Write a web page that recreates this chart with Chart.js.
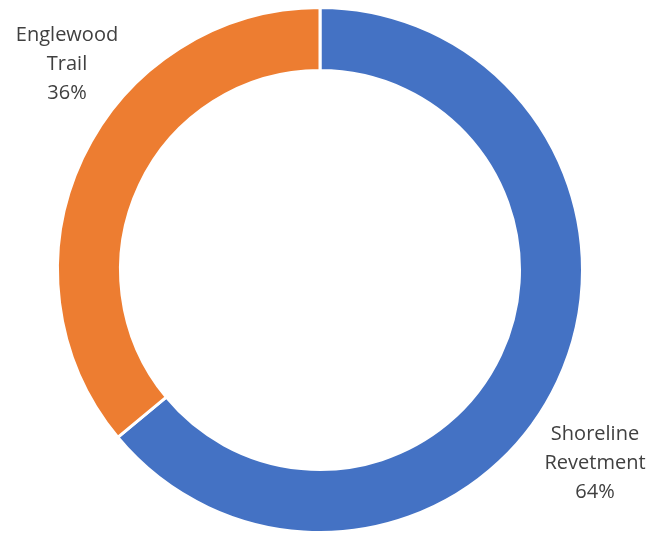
<!DOCTYPE html>
<html><head><meta charset="utf-8">
<script src="https://cdn.jsdelivr.net/npm/chart.js@4"></script>
<style>html,body{margin:0;padding:0;background:#fff}#w{width:665px;height:534px}</style>
</head><body><div id="w"><canvas id="c" width="665" height="534"></canvas></div>
<script>
const categories = ["Shoreline Revetment", "Englewood Trail"];
const values = [64, 36];
const labelLines = [["Shoreline", "Revetment", "64%"], ["Englewood", "Trail", "36%"]];
const colors = ["#4472C4", "#ED7D31"];
// label anchor positions (fraction of canvas)
const labelPos = [[595/665, 434/534], [67/665, 35/534]];

const labelPlugin = {
  id: 'lbl',
  afterDraw(chart) {
    const ctx = chart.ctx;
    ctx.save();
    ctx.font = '20px "Open Sans"';
    ctx.fillStyle = '#404040';
    ctx.textAlign = 'center';
    ctx.textBaseline = 'middle';
    labelLines.forEach((lines, i) => {
      const x = labelPos[i][0] * chart.width, y = labelPos[i][1] * chart.height;
      lines.forEach((t, j) => ctx.fillText(t, x, y + j * 29));
    });
    ctx.restore();
  }
};

new Chart(document.getElementById('c'), {
  type: 'doughnut',
  data: { labels: categories, datasets: [{ data: values, backgroundColor: colors, borderColor: '#fff', borderWidth: 3 }] },
  options: {
    responsive: false, animation: false, cutout: '76%',
    layout: { padding: { top: 6, bottom: 0, left: 0, right: 25 } },
    plugins: { legend: { display: false }, tooltip: { enabled: false } }
  },
  plugins: [labelPlugin]
});
</script></body></html>
